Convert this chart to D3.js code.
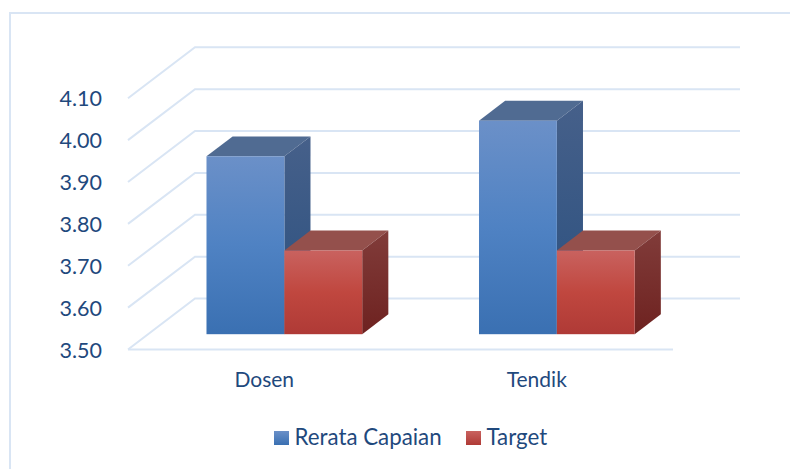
<!DOCTYPE html>
<html>
<head>
<meta charset="utf-8">
<script src="https://cdn.jsdelivr.net/npm/d3@7"></script>
<style>
  html, body { margin: 0; padding: 0; background: #fff; }
  svg { display: block; }
  text { font-family: Lato, "Open Sans", sans-serif; fill: #1f497d; }
</style>
</head>
<body>
<div id="chart"></div>
<script>
const categories = ["Dosen", "Tendik"];
const seriesNames = ["Rerata Capaian", "Target"];
const rerataCapaian = [3.925, 4.01];
const target = [3.70, 3.70];
const tickValues = [3.5, 3.6, 3.7, 3.8, 3.9, 4.0, 4.1];

const width = 790;
const height = 469;
const gridColor = "#d9e5f4";
const depthX = 67;    // how far the back wall is shifted from the front
const depthY = -51;
const barDepthStart = 0.3;  // bars stand 30% - 69% of the way into the floor
const barDepthEnd = 0.69;

const svg = d3.select("#chart").append("svg")
    .attr("width", width)
    .attr("height", height);

const defs = svg.append("defs");

function addGradient(id, stops) {
    const g = defs.append("linearGradient")
        .attr("id", id)
        .attr("x1", 0).attr("y1", 0)
        .attr("x2", 0).attr("y2", 1);
    g.selectAll("stop").data(stops).enter().append("stop")
        .attr("offset", d => d[0])
        .attr("stop-color", d => d[1]);
}

addGradient("blue-front", [[0, "#6b90c8"], [0.5, "#4f82c3"], [1, "#3a70b2"]]);
addGradient("blue-side", [[0, "#46608a"], [1, "#2a507f"]]);
addGradient("red-front", [[0, "#c9625f"], [0.5, "#c0473f"], [1, "#af3a36"]]);
addGradient("red-side", [[0, "#813c3a"], [1, "#6e2220"]]);
addGradient("blue-key", [[0, "#6b90c8"], [1, "#3a70b2"]]);
addGradient("red-key", [[0, "#c9625f"], [1, "#af3a36"]]);

const scaleY = d3.scaleLinear().domain([3.5, 4.1]).range([349.5, 98.3]);
const scaleX = d3.scaleBand().domain(categories).range([128, 673]);
const scaleSeries = d3.scaleBand().domain(seriesNames)
    .range([0, scaleX.bandwidth()])
    .paddingInner(0)
    .paddingOuter(0.75);

// frame: only the top and left edges show in the picture
svg.append("path")
    .attr("d", d3.line()([[10, height], [10, 13], [width, 13]]))
    .attr("fill", "none")
    .attr("stroke", gridColor)
    .attr("stroke-width", 2);

// gridlines: slanted part on the left wall, flat part on the back wall
const grid = svg.append("g").attr("fill", "none").attr("stroke", gridColor).attr("stroke-width", 2);
tickValues.forEach(v => {
    grid.append("path").attr("d", d3.line()([
        [scaleX.range()[0], scaleY(v)],
        [scaleX.range()[0] + depthX, scaleY(v) + depthY],
        [scaleX.range()[1] + depthX, scaleY(v) + depthY]
    ]));
});
grid.append("line")
    .attr("x1", scaleX.range()[0]).attr("y1", scaleY(3.5))
    .attr("x2", scaleX.range()[1]).attr("y2", scaleY(3.5));

// y labels
svg.append("g").selectAll("text").data(tickValues).enter().append("text")
    .attr("x", 102)
    .attr("y", d => scaleY(d) + 8)
    .attr("text-anchor", "end")
    .attr("font-size", 21.5)
    .text(d => d.toFixed(2));

// category labels
svg.append("g").selectAll("text").data(categories).enter().append("text")
    .attr("x", d => scaleX(d) + scaleX.bandwidth() / 2)
    .attr("y", 387)
    .attr("text-anchor", "middle")
    .attr("font-size", 21)
    .text(d => d);

function drawBar(cat, name, value, front, side, top) {
    const shiftX = depthX * barDepthStart;
    const shiftY = depthY * barDepthStart;
    const dx = depthX * (barDepthEnd - barDepthStart);
    const dy = depthY * (barDepthEnd - barDepthStart);
    const x0 = scaleX(cat) + scaleSeries(name) + shiftX;
    const x1 = x0 + scaleSeries.bandwidth();
    const y0 = scaleY(3.5) + shiftY;
    const y1 = scaleY(value) + shiftY;
    const line = d3.line();
    svg.append("path").attr("fill", top)
        .attr("d", line([[x0, y1], [x0 + dx, y1 + dy], [x1 + dx, y1 + dy], [x1, y1]]) + "Z");
    svg.append("path").attr("fill", `url(#${side})`)
        .attr("d", line([[x1, y1], [x1 + dx, y1 + dy], [x1 + dx, y0 + dy], [x1, y0]]) + "Z");
    svg.append("rect").attr("fill", `url(#${front})`)
        .attr("x", x0).attr("y", y1)
        .attr("width", x1 - x0).attr("height", y0 - y1);
}

categories.forEach((cat, i) => {
    drawBar(cat, seriesNames[0], rerataCapaian[i], "blue-front", "blue-side", "#506b92");
    drawBar(cat, seriesNames[1], target[i], "red-front", "red-side", "#94504c");
});

// legend
const legendX = [274, 466];
const legendKeys = ["blue-key", "red-key"];
const legend = svg.append("g");
seriesNames.forEach((name, i) => {
    legend.append("rect")
        .attr("x", legendX[i]).attr("y", 431)
        .attr("width", 15).attr("height", 14)
        .attr("fill", `url(#${legendKeys[i]})`);
    legend.append("text")
        .attr("x", legendX[i] + 20.5).attr("y", 445)
        .attr("font-size", 22.3)
        .text(name);
});
</script>
</body>
</html>
